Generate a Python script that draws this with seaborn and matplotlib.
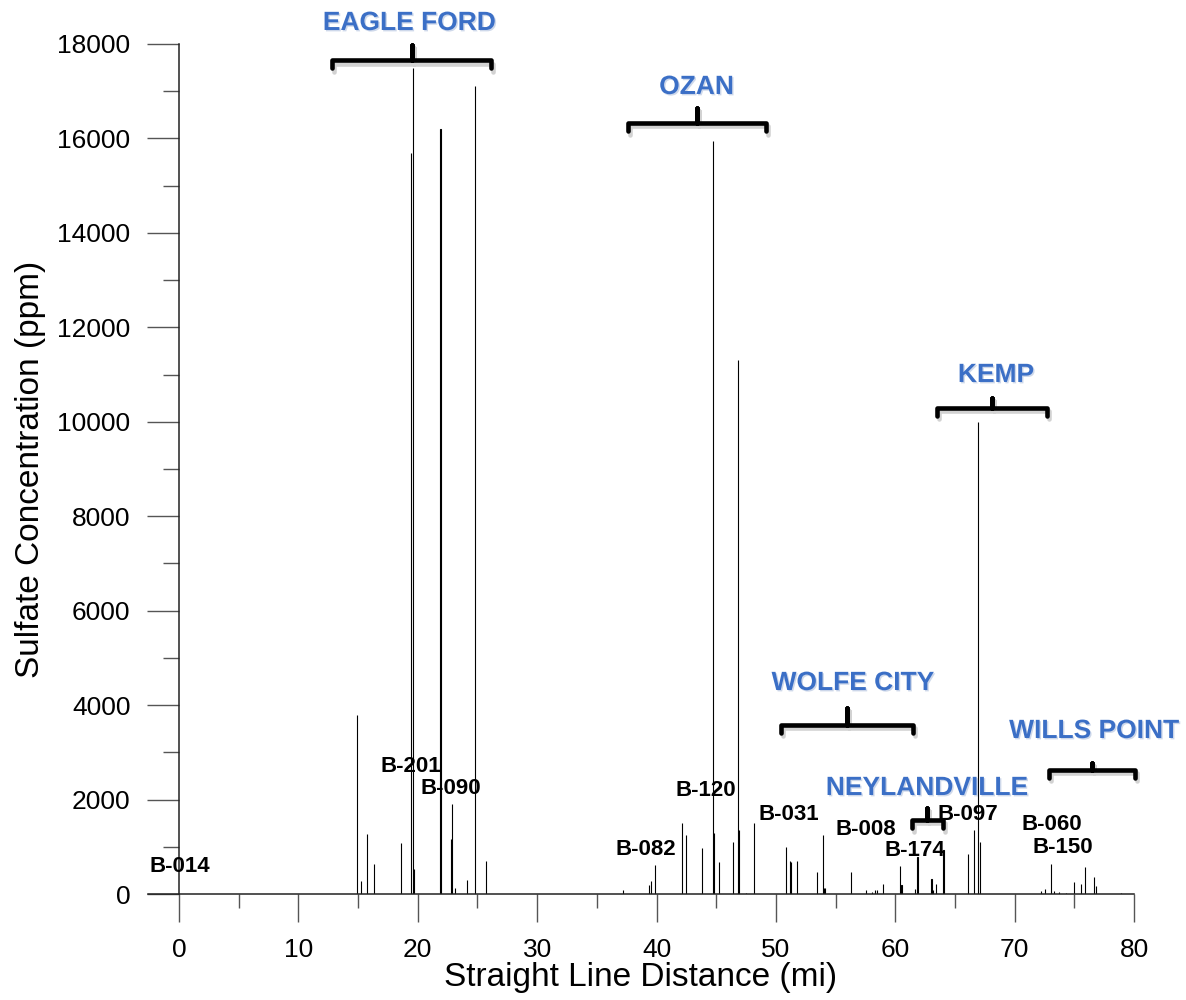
import numpy as np
import pandas as pd
import matplotlib
matplotlib.use('Agg')
import matplotlib.pyplot as plt
import matplotlib.patheffects as pe
import seaborn as sns

# sampling points along the line (mi) and sulfate concentration (ppm)
distance_mi = [14.87, 15.26, 15.77, 16.32, 18.62, 19.44, 19.57, 19.70, 21.90, 22.75,
               22.84, 23.14, 24.10, 24.77, 25.74, 37.20, 39.36, 39.53, 39.89, 42.12,
               42.43, 43.83, 44.75, 44.80, 45.20, 46.40, 46.82, 46.88, 47.46, 48.16,
               50.82, 51.18, 51.26, 51.77, 53.47, 53.91, 54.06, 54.11, 56.27, 57.58,
               58.06, 58.28, 58.45, 59.00, 60.38, 60.52, 61.66, 61.86, 63.03, 63.17,
               63.40, 64.04, 66.08, 66.56, 66.93, 67.08, 72.17, 72.54, 73.04, 73.26,
               73.68, 74.30, 74.94, 75.53, 75.89, 76.67, 76.81, 78.90]
sulfate_ppm = [3800, 275, 1265, 640, 1090, 15700, 17500, 520, 16200, 1160,
               1900, 130, 295, 17100, 700, 85, 190, 275, 605, 1500,
               1245, 970, 15950, 1300, 680, 1100, 11300, 1355, 15, 1500,
               990, 700, 670, 700, 470, 1250, 125, 125, 460, 85,
               35, 80, 92, 205, 595, 190, 100, 780, 320, 85,
               205, 930, 840, 1350, 10000, 1100, 64, 106, 635, 56,
               42, 21, 254, 212, 565, 353, 169, 21]

# well labels
well_names = ['B-014', 'B-201', 'B-090', 'B-082', 'B-120', 'B-031',
              'B-008', 'B-174', 'B-097', 'B-060', 'B-150']
well_x = [0.05, 19.45, 22.8, 39.1, 44.15, 51.07, 57.57, 61.68, 66.12, 73.08, 74.05]
well_y = [590, 2690, 2225, 950, 2200, 1675, 1375, 930, 1675, 1480, 975]

# formation groups (brace start, end, level, label position)
group_names = ['EAGLE FORD', 'OZAN', 'KEMP', 'WOLFE CITY', 'NEYLANDVILLE', 'WILLS POINT']
brace_x0 = [12.83, 37.57, 63.48, 50.40, 61.36, 72.87]
brace_x1 = [26.16, 49.14, 72.70, 61.47, 63.98, 80.08]
brace_y = [17660, 16327, 10292, 3579, 1567, 2626]
brace_top = [17980, 16645, 10504, 3939, 1821, 2774]
group_x = [19.29, 43.35, 68.43, 56.44, 62.64, 76.65]
group_y = [18445, 17090, 10991, 4468, 2245, 3452]

df = pd.DataFrame({'Distance': distance_mi, 'Sulfate': sulfate_ppm})

sns.set_theme(style='ticks')
plt.rcParams['font.family'] = ['Liberation Sans', 'DejaVu Sans']
plt.rcParams['text.color'] = 'black'
plt.rcParams['axes.labelcolor'] = 'black'
plt.rcParams['xtick.labelcolor'] = 'black'
plt.rcParams['ytick.labelcolor'] = 'black'

fig = plt.figure(figsize=(11.86, 10), dpi=100)
ax = fig.add_axes([0.1248, 0.106, 0.8314, 0.85])

sns.barplot(data=df, x='Distance', y='Sulfate', native_scale=True, width=0.2,
            color='black', edgecolor='black', linewidth=0.8, errorbar=None,
            saturation=1, ax=ax)

ax.set_xlim(-2.6, 80)
ax.set_ylim(0, 18000)
ax.set_xticks(np.arange(0, 81, 10))
ax.set_xticks(np.arange(5, 80, 10), minor=True)
ax.set_yticks(np.arange(0, 18001, 2000))
ax.set_yticks(np.arange(1000, 18000, 2000), minor=True)
ax.spines['left'].set_position(('data', 0))
ax.spines['top'].set_visible(False)
ax.spines['right'].set_visible(False)
for s in ['left', 'bottom']:
    ax.spines[s].set_color('#222222')
    ax.spines[s].set_linewidth(1.1)
ax.tick_params(axis='x', which='major', length=20, width=1, color='#555555',
               labelsize=19, pad=12)
ax.tick_params(axis='x', which='minor', length=10, width=1, color='#555555')
ax.tick_params(axis='y', which='major', length=23, width=1, color='#555555',
               labelsize=19, pad=12)
ax.tick_params(axis='y', which='minor', length=11.5, width=1, color='#555555')
ax.set_xlabel('Straight Line Distance (mi)', fontsize=24, labelpad=0)
ax.set_ylabel('Sulfate Concentration (ppm)', fontsize=24, labelpad=8)

for name, x, y in zip(well_names, well_x, well_y):
    ax.text(x, y, name, fontsize=16, fontweight='bold', ha='center',
            va='center', color='black', clip_on=False)

shadow = [pe.SimpleLineShadow(offset=(1.5, -2.5), shadow_color='gray', alpha=0.35),
          pe.Normal()]
text_fx = [pe.withSimplePatchShadow(offset=(1, -1), shadow_rgbFace='#9fb3d6', alpha=0.5)]
for name, x0, x1, y, top, gx, gy in zip(group_names, brace_x0, brace_x1, brace_y,
                                        brace_top, group_x, group_y):
    xc = (x0 + x1) / 2
    hook = 170
    ax.plot([x0, x0, xc, xc, xc, x1, x1], [y - hook, y, y, top, y, y, y - hook],
            color='black', lw=3.3, solid_joinstyle='round', solid_capstyle='round',
            clip_on=False, path_effects=shadow, zorder=5)
    ax.text(gx, gy, name, fontsize=19, fontweight='bold', ha='center', va='center',
            color='#3b6fc6', clip_on=False, path_effects=text_fx, zorder=6)

fig.savefig('out.png', dpi=100)
